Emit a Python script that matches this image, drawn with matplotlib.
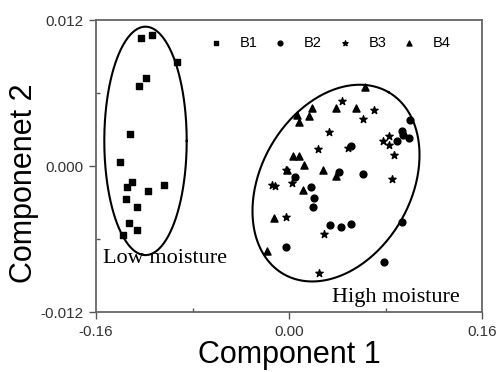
import numpy as np
import matplotlib.pyplot as plt

plt.rcParams['font.family'] = 'Liberation Sans'

# PCA scores, component 1 / component 2
b1_x = [-0.1227, -0.1136, -0.0926, -0.1185, -0.1241, -0.1321, -0.1401, -0.1304,
        -0.1341, -0.1036, -0.1166, -0.1351, -0.1263, -0.1329, -0.1260, -0.1374]
b1_y = [0.01055, 0.01079, 0.00852, 0.00723, 0.00658, 0.00263, 0.00033, -0.00132,
        -0.00170, -0.00156, -0.00205, -0.00271, -0.00339, -0.00466, -0.00524, -0.00567]

b2_x = [0.1007, 0.0934, 0.0949, 0.0995, 0.0898, 0.0512, 0.0415, 0.0611, 0.0050,
        0.0182, 0.0207, 0.0196, 0.0939, 0.0340, 0.0429, 0.0511, -0.0025, 0.0788]
b2_y = [0.00382, 0.00288, 0.00255, 0.00234, 0.00210, 0.00164, -0.00045, -0.00067, -0.00088,
        -0.00173, -0.00260, -0.00335, -0.00462, -0.00487, -0.00503, -0.00473, -0.00662, -0.00789]

b3_x = [0.0437, 0.0707, 0.0616, 0.0329, 0.0243, 0.0492, 0.0783, 0.0831, 0.0831,
        0.0873, 0.0858, -0.0021, 0.0022, -0.0143, -0.0116, -0.0025, 0.0290, 0.0251]
b3_y = [0.00534, 0.00460, 0.00388, 0.00280, 0.00142, 0.00150, 0.00208, 0.00248, 0.00170,
        0.00088, -0.00107, -0.00033, -0.00137, -0.00156, -0.00164, -0.00419, -0.00556, -0.00880]

b4_x = [0.0630, 0.0191, 0.0166, 0.0064, 0.0085, 0.0392, 0.0555, 0.0036, 0.0085,
        0.0124, -0.0017, 0.0282, 0.0390, 0.0114, -0.0124, -0.0180]
b4_y = [0.00648, 0.00474, 0.00415, 0.00417, 0.00364, 0.00478, 0.00474, 0.00081, 0.00081,
        0.00012, -0.00029, -0.00030, -0.00082, -0.00195, -0.00430, -0.00694]

fig = plt.figure(figsize=(5, 3.72), dpi=100)
ax = fig.add_axes([0.192, 0.161, 0.772, 0.785])

ax.scatter(b1_x, b1_y, marker='s', s=18, c='black', label='B1')
ax.scatter(b2_x, b2_y, marker='o', s=24, c='black', label='B2')
ax.scatter(b3_x, b3_y, marker='*', s=30, c='black', label='B3')
ax.scatter(b4_x, b4_y, marker='^', s=26, c='black', label='B4')

ax.set_xlim(-0.16, 0.16)
ax.set_ylim(-0.012, 0.012)
ax.set_xticks([-0.16, 0.0, 0.16])
ax.set_xticklabels(['-0.16', '0.00', '0.16'])
ax.set_yticks([-0.012, 0.0, 0.012])
ax.set_yticklabels(['-0.012', '0.000', '0.012'])
ax.set_xticks([-0.08, 0.08], minor=True)
ax.set_yticks([-0.006, 0.006], minor=True)
ax.tick_params(which='major', direction='out', length=5, width=1, color='#555555',
               labelsize=11, labelcolor='#333333', pad=4)
ax.tick_params(which='minor', direction='in', length=3, width=1, color='#555555')
for sp in ax.spines.values():
    sp.set_color('#666666')
    sp.set_linewidth(1.3)

ax.set_xlabel('Component 1', fontsize=22, labelpad=1)
ax.set_ylabel('Componenet 2', fontsize=22)
ax.yaxis.set_label_coords(-0.148, 0.44)


def draw_ellipse(cx, cy, a, b, angle):
    # ellipse given in screen pixels of the axes box, converted to axes fraction
    w, h = 386.0, 292.0
    t = np.linspace(0, 2 * np.pi, 300)
    th = np.deg2rad(angle)
    px = cx + a * np.cos(t) * np.cos(th) - b * np.sin(t) * np.sin(th)
    py = cy + a * np.cos(t) * np.sin(th) + b * np.sin(t) * np.cos(th)
    ax.plot(px / w, py / h, color='black', lw=1.5, transform=ax.transAxes, clip_on=False)


# low moisture group (left) and high moisture group (right)
draw_ellipse(49.5, 292 - 120.8, 41.2, 114.2, 0)
draw_ellipse(240.0, 292 - 163.0, 105, 75, 60)

ax.text(0.018, 0.168, 'Low moisture', transform=ax.transAxes,
        family='Liberation Serif', fontsize=16, va='baseline')
ax.text(0.611, 0.034, 'High moisture', transform=ax.transAxes,
        family='Liberation Serif', fontsize=16, va='baseline')

ax.legend(loc='upper right', bbox_to_anchor=(0.92, 0.945), ncol=4, frameon=False,
          fontsize=10.5, markerscale=0.7, handlelength=1.2, handletextpad=1.05,
          columnspacing=0.95, borderpad=0, borderaxespad=0)

fig.savefig('out.png', dpi=100)
